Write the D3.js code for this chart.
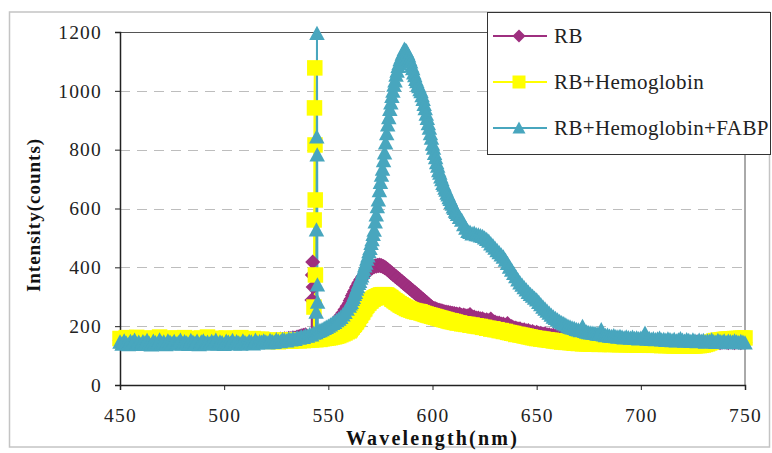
<!DOCTYPE html>
<html>
<head>
<meta charset="utf-8">
<script src="https://cdn.jsdelivr.net/npm/d3@7"></script>
<style>
  html, body { margin: 0; padding: 0; background: #fff; }
  svg { display: block; }
</style>
</head>
<body>
<svg id="chart" width="772" height="453"></svg>
<script>
// Fluorescence emission spectra, sampled every 1 nm (every 0.5 nm across the emission peak)
const wavelength = [].concat(
  d3.range(450, 560, 1),
  d3.range(560, 612, 0.5),
  d3.range(612, 751, 1)
);

const seriesNames = ["RB", "RB+Hemoglobin", "RB+Hemoglobin+FABP"];

// Intensity (counts) for each series, one value per wavelength
const rbCounts = [
  151,147,154,149,152,146,155,150,148,153, 149,154,147,152,150,156,148,151,153,147,
  152,149,155,148,151,154,147,153,150,149, 154,148,151,156,149,152,147,155,150,153,
  148,152,150,155,149,153,151,147,154,150, 152,149,154,150,147,153,151,155,149,152,
  150,154,148,152,151,149,155,150,153,151, 152,150,154,151,153,155,152,156,154,157,
  156,159,158,161,160,163,165,167,169,171, 160,162,163,165,167,170,173,176,180,185,
  190,196,202,209,217,226,236,246,257,268,
  278,287,293,303,309,318,323,332,337,346, 350,358,361,368,371,378,380,386,387,392,
  393,398,398,402,402,405,404,407,405,408, 405,406,403,403,399,399,394,393,388,387,
  382,381,376,375,370,369,364,363,359,357, 352,351,346,345,340,339,334,333,328,327,
  322,321,316,315,310,309,304,303,298,297, 292,291,286,285,280,279,274,272,268,266,
  262,261,259,259,256,256,253,254,251,252, 249,250,247,248,245,247,244,246,243,244,
  241,243,240,241,
  240,241,237,238,235,235,240,231,231,228, 228,225,225,221,222,218,224,215,214,211,
  211,207,207,203,209,199,199,195,194,191, 191,187,188,184,185,181,182,178,179,176,
  176,173,174,171,171,168,169,166,167,164, 164,162,163,160,161,159,160,157,158,156,
  157,155,156,154,155,153,154,152,153,152, 152,151,152,150,151,150,150,149,150,148,
  149,148,149,147,148,147,148,146,147,146, 147,146,147,145,146,145,146,145,146,145,
  146,145,146,144,146,145,146,144,145,146, 145,146,144,146,145,146,144,145,146,144,
  146,145,144,146,145,146,144,145,146,145, 144,146,145,144,146,145,144,146,145
];

const hemoglobinCounts = [
  158,150,155,161,148,153,157,150,162,152, 149,156,160,151,155,147,158,153,150,163,
  154,148,157,152,160,150,155,159,149,156, 152,161,150,155,148,158,153,157,151,160,
  155,149,163,152,157,150,159,154,148,156, 153,160,151,156,149,158,152,155,161,150,
  154,157,149,153,158,151,155,150,156,152, 149,153,151,148,152,150,147,151,149,153,
  150,152,149,153,151,152,150,153,151,152, 152,154,153,155,154,156,155,157,158,159,
  160,161,163,164,166,168,171,174,177,181,
  184,188,194,197,203,206,212,215,222,226, 234,237,245,248,256,259,267,271,277,279,
  285,286,291,292,296,296,300,300,303,303, 306,305,307,306,307,305,306,303,301,298,
  297,292,291,287,286,282,281,277,276,272, 272,268,268,264,264,260,261,257,258,255,
  255,252,253,250,251,248,250,247,249,245, 246,243,243,240,241,238,239,236,237,234,
  235,232,233,230,231,228,229,226,227,224, 225,222,223,220,221,218,219,216,218,215,
  216,213,214,212,
  211,211,208,208,206,206,203,204,201,201, 199,199,196,196,193,193,190,191,188,188,
  185,185,182,182,179,178,176,175,172,172, 170,169,167,166,164,163,161,160,158,158,
  156,156,154,154,152,152,150,150,148,148, 146,147,145,145,144,144,142,143,141,142,
  140,141,140,140,139,140,139,139,138,139, 139,138,139,138,138,139,138,138,137,138,
  138,137,138,137,137,137,136,137,136,137, 136,136,135,136,135,136,135,135,134,135,
  134,135,134,134,133,134,133,134,133,133, 133,133,133,133,133,134,134,135,136,138,
  140,143,146,149,151,152,153,154,155,156, 156,157,157,158,158,158,159,159,160
];

const fabpCounts = [
  146,139,150,142,137,148,144,152,140,145, 138,147,143,151,141,136,149,144,139,153,
  142,146,137,150,145,141,148,139,144,152, 140,147,143,138,151,145,142,149,137,146,
  150,141,145,139,148,143,152,140,146,144, 138,149,145,142,151,140,147,143,139,150,
  144,141,148,146,140,152,143,147,145,150, 146,143,151,148,145,153,149,147,155,152,
  150,156,153,158,155,161,159,164,162,167, 166,171,170,176,178,182,185,188,192,196,
  200,204,209,213,219,224,230,238,247,258,
  268,276,281,291,298,308,315,326,334,345, 352,363,371,383,392,405,414,428,439,453,
  464,481,494,512,526,554,578,606,629,661, 689,713,734,763,789,823,854,884,909,937,
  959,981,999,1019,1034,1053,1067,1083,1093,1106, 1114,1125,1131,1141,1137,1135,1127,1119,1107,1098,
  1084,1075,1061,1052,1039,1031,1019,1014,1004,997, 984,971,954,939,921,906,888,873,854,839,
  819,805,787,773,756,744,729,720,707,698, 685,679,669,662,652,646,637,631,621,615,
  605,600,591,587,
  580,570,560,545,533,522,519,514,516,511, 510,507,505,500,495,489,480,473,465,457,
  450,442,435,424,413,401,390,379,368,357, 347,339,331,323,315,308,302,295,289,281,
  273,265,258,251,244,237,231,226,221,216, 212,208,204,200,197,194,192,189,187,185,
  199,182,180,178,177,176,175,173,172,188, 170,168,169,166,165,167,164,163,165,162,
  160,163,161,159,162,158,160,157,159,161, 176,156,158,155,157,154,156,159,153,155,
  152,156,154,151,155,150,153,157,152,149, 154,151,148,153,150,147,152,149,151,146,
  150,148,153,147,145,151,148,146,150,144, 149,147,145,150,146,144,148,145,143
];

// Excitation scatter spike near 544 nm, sampled finely
const rbSpikeNm = [542.1, 542.3, 542.5, 542.7];
const rbSpikeCounts = [289, 374, 418, 333];
const hemoglobinSpikeNm = [543.1, 543.2, 543.35, 543.5, 543.6, 543.7, 543.8];
const hemoglobinSpikeCounts = [265, 561, 942, 1078, 816, 629, 374];
const fabpSpikeNm = [544.15, 544.3, 544.45, 544.55, 544.65, 544.75, 544.85];
const fabpSpikeCounts = [248, 527, 843, 1195, 782, 340, 282];

const xTicks = [450, 500, 550, 600, 650, 700, 750];
const yTicks = [0, 200, 400, 600, 800, 1000, 1200];

// ---- layout ----
const svg = d3.select("#chart");
const margin = { left: 120, right: 27, top: 32, bottom: 68 };
const width = 772, height = 453;
const x = d3.scaleLinear().domain([450, 750]).range([margin.left, width - margin.right]);
const y = d3.scaleLinear().domain([0, 1200]).range([height - margin.bottom, margin.top]);

const serif = "'Liberation Serif', 'Times New Roman', serif";
const colors = ["#9e2f7f", "#ffff00", "#48a6be"];

// outer chart frame
svg.append("rect")
  .attr("x", 9.5).attr("y", 12).attr("width", 760).attr("height", 435)
  .attr("fill", "none").attr("stroke", "#c4c4c4").attr("stroke-width", 1.5);

// gridlines
svg.append("g").selectAll("line")
  .data(yTicks.filter(d => d > 0 && d < 1200))
  .join("line")
  .attr("x1", x(450)).attr("x2", x(750))
  .attr("y1", d => Math.round(y(d)) + 0.5).attr("y2", d => Math.round(y(d)) + 0.5)
  .attr("stroke", "#bdbdbd").attr("stroke-width", 1)
  .attr("stroke-dasharray", "10,7");

// plot-area top and right edges
svg.append("path")
  .attr("d", `M${x(450)},${Math.round(y(1200)) + 0.5}H${x(750)}V${y(0)}`)
  .attr("fill", "none").attr("stroke", "#555").attr("stroke-width", 1);

// axes
const xAxis = d3.axisBottom(x).tickValues(xTicks).tickSize(5).tickPadding(18).tickFormat(d3.format("d"));
const yAxis = d3.axisLeft(y).tickValues(yTicks).tickSize(5).tickPadding(13).tickFormat(d3.format("d"));

const gx = svg.append("g").attr("transform", `translate(0,${y(0)})`).call(xAxis);
const gy = svg.append("g").attr("transform", `translate(${x(450)},0)`).call(yAxis);
[gx, gy].forEach(g => {
  g.select(".domain").attr("stroke", "#222").attr("stroke-width", 1.5);
  g.selectAll(".tick line").attr("stroke", "#222").attr("stroke-width", 1);
  g.selectAll(".tick text")
    .attr("fill", "#222")
    .style("font-family", serif)
    .style("font-size", "19.5px")
    .style("letter-spacing", "1.2px");
});

// axis titles
svg.append("text")
  .attr("x", (x(450) + x(750)) / 2).attr("y", 444.5)
  .attr("text-anchor", "middle")
  .style("font-family", serif).style("font-size", "20px").style("font-weight", "bold")
  .style("letter-spacing", "2.2px").attr("fill", "#111")
  .text("Wavelength(nm)");

svg.append("text")
  .attr("transform", "translate(40,215) rotate(-90)")
  .attr("text-anchor", "middle")
  .style("font-family", serif).style("font-size", "19px").style("font-weight", "bold")
  .style("letter-spacing", "1px").attr("fill", "#111")
  .text("Intensity(counts)");

// marker shapes
function markerPath(kind, s) {
  const h = s / 2;
  if (kind === "diamond") return `M0,${-h}L${h},0L0,${h}L${-h},0Z`;
  if (kind === "square") return `M${-h},${-h}H${h}V${h}H${-h}Z`;
  return `M0,${-h * 1.0}L${h},${h * 0.85}L${-h},${h * 0.85}Z`;
}

const series = [
  { name: seriesNames[0], color: colors[0], kind: "diamond", size: 15, values: rbCounts, spikeNm: rbSpikeNm, spikeCounts: rbSpikeCounts },
  { name: seriesNames[1], color: colors[1], kind: "square", size: 15.5, values: hemoglobinCounts, spikeNm: hemoglobinSpikeNm, spikeCounts: hemoglobinSpikeCounts },
  { name: seriesNames[2], color: colors[2], kind: "triangle", size: 15.5, values: fabpCounts, spikeNm: fabpSpikeNm, spikeCounts: fabpSpikeCounts }
];

series.forEach(s => {
  s.points = wavelength.map((w, i) => ({ nm: w, v: s.values[i] }))
    .concat(s.spikeNm.map((w, i) => ({ nm: w, v: s.spikeCounts[i] })))
    .filter(p => p.v !== undefined)
    .sort((a, b) => a.nm - b.nm);
});

const line = d3.line().x(d => x(d.nm)).y(d => y(d.v));

// connecting lines first, then markers on top
const linesG = svg.append("g");
series.forEach(s => {
  linesG.append("path")
    .datum(s.points)
    .attr("d", line)
    .attr("fill", "none")
    .attr("stroke", s.color)
    .attr("stroke-width", 2);
});

const markersG = svg.append("g");
series.forEach(s => {
  const d = markerPath(s.kind, s.size);
  markersG.append("g").selectAll("path")
    .data(s.points)
    .join("path")
    .attr("transform", p => `translate(${x(p.nm).toFixed(2)},${y(p.v).toFixed(2)})`)
    .attr("d", d)
    .attr("fill", s.color);
});

// legend
const legend = svg.append("g");
legend.append("rect")
  .attr("x", 487.5).attr("y", 12.5).attr("width", 283).attr("height", 142)
  .attr("fill", "#fff").attr("stroke", "#333").attr("stroke-width", 1);

const legendRows = [36, 82, 128];
series.forEach((s, i) => {
  const ly = legendRows[i];
  legend.append("line")
    .attr("x1", 493).attr("x2", 547).attr("y1", ly).attr("y2", ly)
    .attr("stroke", s.color).attr("stroke-width", 2);
  legend.append("path")
    .attr("transform", `translate(519,${ly})`)
    .attr("d", markerPath(s.kind, 13))
    .attr("fill", s.color);
  legend.append("text")
    .attr("x", 554).attr("y", ly + 7)
    .style("font-family", serif).style("font-size", "21px")
    .style("letter-spacing", "0.4px")
    .attr("fill", "#222")
    .text(s.name);
});
</script>
</body>
</html>
